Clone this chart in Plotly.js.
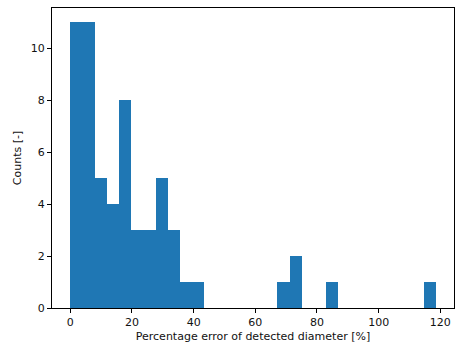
<!DOCTYPE html>
<html><head><meta charset="utf-8">
<script src="https://cdn.plot.ly/plotly-3.0.1.min.js"></script>
<style>html,body{margin:0;padding:0;background:#fff}#chart{width:458px;height:347px}</style>
</head><body><div id="chart"></div>
<script>
const binStart = 0;
const binWidth = 3.95;
const counts = [11,11,5,4,8,3,3,5,3,1,1,0,0,0,0,0,0,1,2,0,0,1,0,0,0,0,0,0,0,1];
const xTicks = [0,20,40,60,80,100,120];
const yTicks = [0,2,4,6,8,10];
const xLabel = "Percentage error of detected diameter [%]";
const yLabel = "Counts [-]";

const xs = counts.map((c,i)=>binStart + (i+0.5)*binWidth);
const font = {family:"DejaVu Sans", size:11, color:"#111"};
const trace = {type:"bar", x:xs, y:counts, width:counts.map(()=>binWidth),
  marker:{color:"#1f77b4", line:{width:0}}, hoverinfo:"x+y"};
const xmax = binStart + counts.length*binWidth;
const pad = (xmax-binStart)*0.05;
const axisCommon = {showline:true, mirror:true, linecolor:"#000", linewidth:1,
  ticks:"outside", ticklen:4, tickwidth:1, tickcolor:"#000", showgrid:false, zeroline:false,
  tickfont:font};
const layout = {
  width:458, height:347, margin:{l:52,r:4,t:8,b:39},
  paper_bgcolor:"#fff", plot_bgcolor:"#fff", showlegend:false, bargap:0,
  font:font,
  xaxis:Object.assign({}, axisCommon, {range:[binStart-pad, xmax+pad], tickvals:xTicks,
    title:{text:xLabel, font:font, standoff:4}}),
  yaxis:Object.assign({}, axisCommon, {range:[0, Math.max(...counts)*1.05], tickvals:yTicks,
    title:{text:yLabel, font:font, standoff:6}})
};
Plotly.newPlot("chart",[trace],layout,{staticPlot:true});
</script></body></html>
